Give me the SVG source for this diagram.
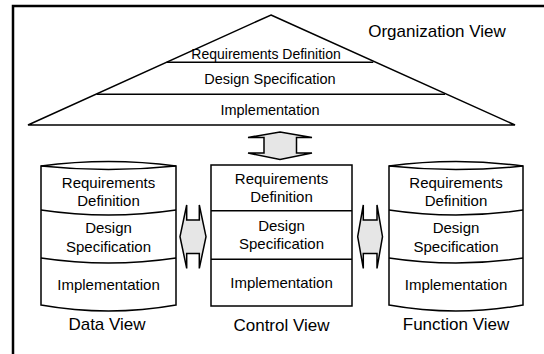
<svg xmlns="http://www.w3.org/2000/svg" width="544" height="354" viewBox="0 0 544 354">
  <style>
    .frame { fill: none; stroke: #000; stroke-width: 2.5; }
    .shape { fill: #fff; stroke: #000; stroke-width: 1.5; }
    .line { fill: none; stroke: #000; stroke-width: 1.5; }
    .arrow { fill: #e6e6e6; stroke: #000; stroke-width: 1.5; stroke-linejoin: miter; }
    .t { font-family: "Liberation Sans", Arial, sans-serif; font-size: 15px; fill: #000; text-anchor: middle; }
    .tt { font-family: "Liberation Sans", Arial, sans-serif; font-size: 14.5px; fill: #000; text-anchor: middle; }
    .lbl { font-family: "Liberation Sans", Arial, sans-serif; font-size: 17px; fill: #000; text-anchor: middle; }
  </style>
  <rect width="544" height="354" fill="#fff"/>
  <!-- outer frame, open to the right and bottom -->
  <rect class="frame" x="13" y="6" width="600" height="400"/>

  <!-- organization view: layered pyramid -->
  <g id="organization-view">
    <polygon class="shape" points="271,15 515,125 28,125"/>
    <line class="line" x1="166.7" y1="62.3" x2="373.3" y2="62.3"/>
    <line class="line" x1="96.7" y1="94.3" x2="445" y2="94.3"/>
    <text class="tt" x="266" y="59" style="font-size:14px">Requirements Definition</text>
    <text class="tt" x="270" y="83.5">Design Specification</text>
    <text class="tt" x="270" y="115">Implementation</text>
    <text class="lbl" x="437" y="37">Organization View</text>
  </g>

  <!-- data view: cylinder -->
  <g id="data-view">
    <path class="shape" d="M41,166 L41,305 Q108.5,317 176,305 L176,166 Q108.5,157 41,166 Z"/>
    <path class="line" d="M41,166 Q108.5,173 176,166"/>
    <path class="line" d="M41,210 Q108.5,220 176,210"/>
    <path class="line" d="M41,258 Q108.5,268 176,258"/>
    <text class="t" x="108.5" y="187.5">Requirements</text>
    <text class="t" x="108.5" y="205.5">Definition</text>
    <text class="t" x="108.5" y="233">Design</text>
    <text class="t" x="108.5" y="252">Specification</text>
    <text class="t" x="108.5" y="290">Implementation</text>
    <text class="lbl" x="107" y="329.5">Data View</text>
  </g>

  <!-- control view: stacked box -->
  <g id="control-view">
    <rect class="shape" x="211" y="165" width="141" height="141"/>
    <line class="line" x1="211" y1="210.7" x2="352" y2="210.7"/>
    <line class="line" x1="211" y1="259.3" x2="352" y2="259.3"/>
    <text class="t" x="281.5" y="184">Requirements</text>
    <text class="t" x="281.5" y="202">Definition</text>
    <text class="t" x="281.5" y="231">Design</text>
    <text class="t" x="281.5" y="249">Specification</text>
    <text class="t" x="281.5" y="288">Implementation</text>
    <text class="lbl" x="281.5" y="330.5">Control View</text>
  </g>

  <!-- function view: cylinder -->
  <g id="function-view">
    <path class="shape" d="M389,166 L389,305 Q456,317 523,305 L523,166 Q456,157 389,166 Z"/>
    <path class="line" d="M389,166 Q456,173 523,166"/>
    <path class="line" d="M389,210 Q456,220 523,210"/>
    <path class="line" d="M389,258 Q456,268 523,258"/>
    <text class="t" x="456" y="187.5">Requirements</text>
    <text class="t" x="456" y="205.5">Definition</text>
    <text class="t" x="456" y="233">Design</text>
    <text class="t" x="456" y="252">Specification</text>
    <text class="t" x="456" y="290">Implementation</text>
    <text class="lbl" x="456" y="329.5">Function View</text>
  </g>

  <!-- connectors: double-headed block arrows -->
  <g id="connectors">
    <polygon class="arrow" points="280,132 312,137.5 296.5,137.5 296.5,153 312,153 280,159.5 248,153 264,153 264,137.5 248,137.5"/>
    <polygon class="arrow" points="180,236.7 186.7,205 186.7,220 199.3,220 199.3,205 206,236.7 199.3,268.4 199.3,253.4 186.7,253.4 186.7,268.4"/>
    <polygon class="arrow" points="357.7,236.7 363.3,205 363.3,220 377,220 377,205 382.5,236.7 377,268.4 377,253.4 363.3,253.4 363.3,268.4"/>
  </g>
</svg>
